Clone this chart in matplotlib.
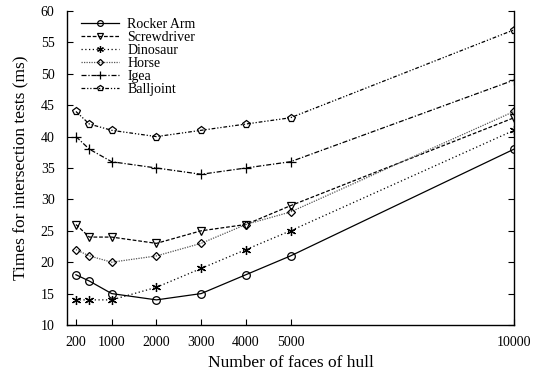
import matplotlib
matplotlib.use("Agg")
import matplotlib.pyplot as plt

faces = [200, 500, 1000, 2000, 3000, 4000, 5000, 10000]
rocker_arm = [18, 17, 15, 14, 15, 18, 21, 38]
screwdriver = [26, 24, 24, 23, 25, 26, 29, 43]
dinosaur = [14, 14, 14, 16, 19, 22, 25, 41]
horse = [22, 21, 20, 21, 23, 26, 28, 44]
igea = [40, 38, 36, 35, 34, 35, 36, 49]
balljoint = [44, 42, 41, 40, 41, 42, 43, 57]
x_ticks = [200, 1000, 2000, 3000, 4000, 5000, 10000]
y_ticks = [10, 15, 20, 25, 30, 35, 40, 45, 50, 55, 60]

plt.rcParams['font.family'] = ['Liberation Serif', 'DejaVu Serif']

fig = plt.figure(figsize=(5.37, 3.71), dpi=100)
ax = fig.add_axes([67/537, 46/371, (514-67)/537, (325-11)/371])

series = [
    ("Rocker Arm", rocker_arm, dict(ls='-', marker='o', color='black', ms=5.5)),
    ("Screwdriver", screwdriver, dict(ls=(0, (3, 1.5)), marker='v', color='black', ms=5.5)),
    ("Dinosaur", dinosaur, dict(ls=(0, (1, 2)), marker=(6, 2, 0), color='black', ms=6.5)),
    ("Horse", horse, dict(ls=(0, (1, 1)), marker='D', color='#555555', ms=4.2, mec='black')),
    ("Igea", igea, dict(ls=(0, (4, 1.5, 1, 1.5)), marker='+', color='black', ms=7.5)),
    ("Balljoint", balljoint, dict(ls=(0, (3, 1.5, 1, 1.5, 1, 1.5)), marker='p', color='black', ms=5.5)),
]
for name, vals, st in series:
    ax.plot(faces, vals, label=name, lw=0.9, mfc='none', mew=0.9, **st)

ax.set_xlim(0, 10000)
ax.set_ylim(10, 60)
ax.set_xticks(x_ticks)
ax.set_yticks(y_ticks)
ax.tick_params(direction='in', labelsize=10, length=4, width=0.8, right=True)
ax.tick_params(axis='x', pad=8)
ax.tick_params(axis='y', pad=9)
ax.spines['top'].set_visible(False)
for s in ['left', 'right', 'bottom']:
    ax.spines[s].set_linewidth(1.0)
ax.set_xlabel("Number of faces of hull", fontsize=12.5, labelpad=4)
ax.set_ylabel("Times for intersection tests (ms)", fontsize=12.5, labelpad=8)
leg = ax.legend(loc='upper left', frameon=False, fontsize=10, handlelength=2.7,
                labelspacing=0.0, handletextpad=0.6, borderaxespad=0.0,
                markerscale=0.75, bbox_to_anchor=(0.02, 0.995))
fig.savefig("out.png", dpi=100)
